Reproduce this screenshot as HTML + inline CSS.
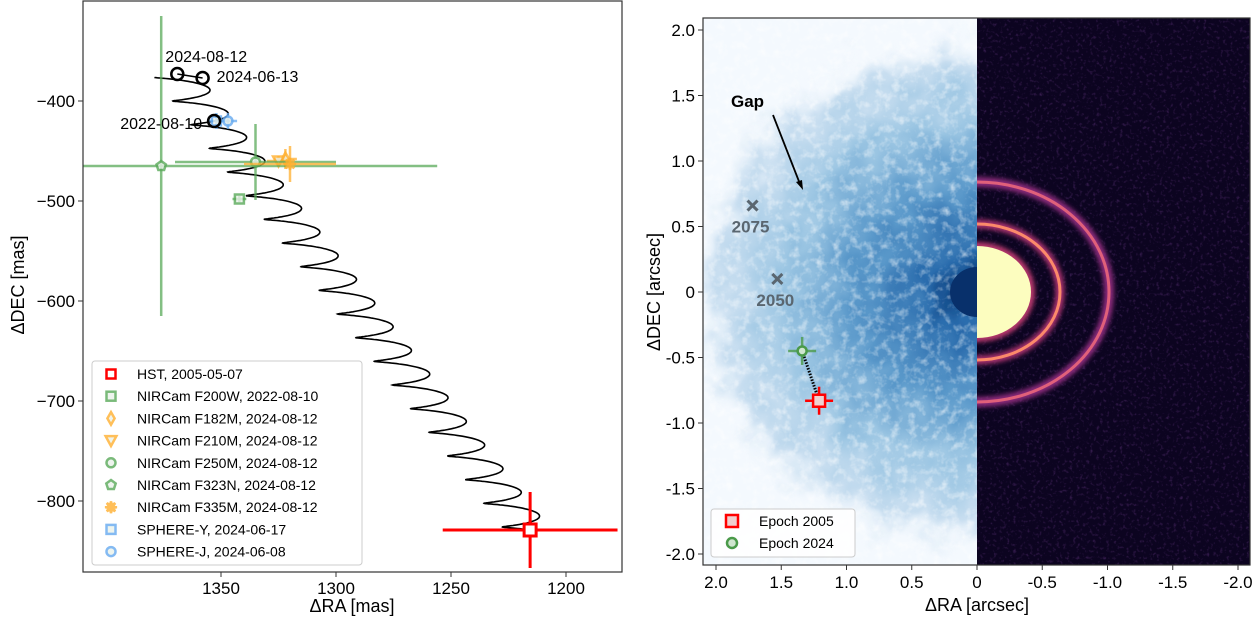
<!DOCTYPE html>
<html><head><meta charset="utf-8"><style>
html,body{margin:0;padding:0;background:#fff;}
svg{display:block;font-family:"Liberation Sans","DejaVu Sans",sans-serif;}
</style></head><body>
<svg id="fig" width="1255" height="620" viewBox="0 0 1255 620" xmlns="http://www.w3.org/2000/svg">
<defs>
<clipPath id="clipL"><rect x="83" y="1" width="539" height="571"/></clipPath>
<clipPath id="clipBlue"><rect x="703" y="18" width="274" height="547"/></clipPath>
<clipPath id="clipDark"><rect x="977" y="18" width="273" height="547"/></clipPath>
<filter id="rough" x="-20%" y="-20%" width="140%" height="140%">
<feTurbulence type="fractalNoise" baseFrequency="0.03" numOctaves="3" seed="4" result="n"/>
<feDisplacementMap in="SourceGraphic" in2="n" scale="60" xChannelSelector="R" yChannelSelector="G"/>
</filter>
<filter id="speck" x="0" y="0" width="100%" height="100%">
<feTurbulence type="fractalNoise" baseFrequency="0.12" numOctaves="3" seed="7"/>
<feColorMatrix values="0 0 0 0 1  0 0 0 0 1  0 0 0 0 1  0 0 0 2.2 -1.05"/>
</filter>
<filter id="speckD" x="0" y="0" width="100%" height="100%">
<feTurbulence type="fractalNoise" baseFrequency="0.3" numOctaves="2" seed="3"/>
<feColorMatrix values="0 0 0 0 0.35  0 0 0 0 0.1  0 0 0 0 0.55  0 0 0 2 -1.1"/>
</filter>
<filter id="glow"><feGaussianBlur stdDeviation="2.5"/></filter>
<radialGradient id="diskG" cx="0.5" cy="0.5" r="0.5">
<stop offset="0" stop-color="#0b3f7d"/>
<stop offset="0.15" stop-color="#2a6cad"/>
<stop offset="0.4" stop-color="#5c9acb"/>
<stop offset="0.65" stop-color="#9cc6e3"/>
<stop offset="0.85" stop-color="#c8def0"/>
<stop offset="1" stop-color="#f4f9fe" stop-opacity="0"/>
</radialGradient>
</defs>

<g id="left">
<rect x="83" y="1" width="539" height="571" fill="#fff"/>
<g id="curve" clip-path="url(#clipL)"></g>
<g id="points" clip-path="url(#clipL)"></g>
<g id="annot"></g>
<rect x="83" y="1" width="539" height="571" fill="none" stroke="#333" stroke-width="1.2"/>
<g id="lxticks"></g><g id="lyticks"></g>
<text x="352" y="612" font-size="18" text-anchor="middle">ΔRA [mas]</text>
<text x="0" y="0" font-size="18" text-anchor="middle" transform="translate(24,285) rotate(-90)">ΔDEC [mas]</text>
<g id="legendL"></g>
</g>

<g id="right">
<rect x="703" y="18" width="274" height="547" fill="#f4f9fe"/>
<g clip-path="url(#clipBlue)">
<g filter="url(#rough)">
<ellipse cx="972" cy="292" rx="290" ry="265" fill="url(#diskG)"/>
</g>
<rect x="703" y="18" width="274" height="547" filter="url(#speck)" opacity="0.6"/>
<ellipse cx="977" cy="292" rx="27" ry="25" fill="#08306b"/>
</g>
<rect x="977" y="18" width="273" height="547" fill="#0c0420"/>
<rect x="977" y="18" width="273" height="547" filter="url(#speckD)" opacity="0.4"/>
<g clip-path="url(#clipDark)">
<ellipse cx="977" cy="292" rx="132" ry="110" fill="none" stroke="#8a2a7a" stroke-width="10" filter="url(#glow)"/>
<ellipse cx="977" cy="292" rx="132" ry="110" fill="none" stroke="#e0607a" stroke-width="3"/>
<ellipse cx="977" cy="292" rx="83" ry="68" fill="none" stroke="#a8306e" stroke-width="9" filter="url(#glow)"/>
<ellipse cx="977" cy="292" rx="83" ry="68" fill="none" stroke="#fb8a6a" stroke-width="3"/>
<ellipse cx="977" cy="292" rx="58" ry="50" fill="#b7376d" filter="url(#glow)"/>
<ellipse cx="977" cy="292" rx="54" ry="46" fill="#fcfdbf"/>
</g>
<g id="rmarks"></g>
<rect x="703" y="18" width="547" height="547" fill="none" stroke="#333" stroke-width="1.2"/>
<g id="rxticks"></g><g id="ryticks"></g>
<text x="977" y="611" font-size="18" text-anchor="middle">ΔRA [arcsec]</text>
<text x="0" y="0" font-size="18" text-anchor="middle" transform="translate(660,292) rotate(-90)">ΔDEC [arcsec]</text>
</g>
</svg>
<script>
const labels = ["HST, 2005-05-07","NIRCam F200W, 2022-08-10","NIRCam F182M, 2024-08-12","NIRCam F210M, 2024-08-12","NIRCam F250M, 2024-08-12","NIRCam F323N, 2024-08-12","NIRCam F335M, 2024-08-12","SPHERE-Y, 2024-06-17","SPHERE-J, 2024-06-08"];
const raVals  = [1215.6, 1342, 1322, 1325, 1335, 1376, 1320, 1352, 1347];
const decVals = [-829, -498, -458, -460, -461, -465, -463, -420, -420];
const raErr   = [38, 3, 5, 5, 35, 120, 20, 4, 4];
const decErr  = [38, 3, 10, 5, 38, 150, 18, 8, 8];
const colors  = ["#ff0000","#5aaa5a","#ffb030","#ffb030","#5aaa5a","#5aaa5a","#ffb030","#66aaf0","#66aaf0"];
const shapes  = ["square","square","diamond","tri","circle","pent","star","square","circle"];
const predRA  = [1369, 1358, 1353];
const predDEC = [-373, -377, -420];
const predLab = ["2024-08-12","2024-06-13","2022-08-10"];
const curveStart = [2005.35, 1215.6, -829];
const curveEnd   = [2024.62, 1369, -373];
const parallaxAmp = [10, 3];
const xTicks = [1350, 1300, 1250, 1200];
const yTicks = [-400, -500, -600, -700, -800];
const epochLab = ["Epoch 2005","Epoch 2024"];
const epochRA  = [1.21, 1.34];
const epochDEC = [-0.83, -0.45];
const epochCol = ["#ff0000","#4a9a4a"];
const futLab = ["2075","2050"];
const futRA  = [1.72, 1.53];
const futDEC = [0.66, 0.10];
const rTicksX = [2.0,1.5,1.0,0.5,0,-0.5,-1.0,-1.5,-2.0];
const rTickXLab = ["2.0","1.5","1.0","0.5","0","-0.5","-1.0","-1.5","-2.0"];
const rTicksY = [2.0,1.5,1.0,0.5,0,-0.5,-1.0,-1.5,-2.0];
const rTickYLab = ["2.0","1.5","1.0","0.5","0","-0.5","-1.0","-1.5","-2.0"];

const NS="http://www.w3.org/2000/svg";
function mk(tag, attrs, parent){const e=document.createElementNS(NS,tag);for(const k in attrs)e.setAttribute(k,attrs[k]);parent.appendChild(e);return e;}
const X = ra => 221 - (ra-1350)*2.3;
const Y = d => 101 - (d+400)*1.0;
const RX = a => 977 - a*130.5;
const RY = a => 292 - a*131;

function marker(shape, cx, cy, col, s, parent){
  let e;
  if(shape==="square") e=mk("rect",{x:cx-s,y:cy-s,width:2*s,height:2*s},parent);
  else if(shape==="circle") e=mk("circle",{cx:cx,cy:cy,r:s},parent);
  else if(shape==="diamond") e=mk("polygon",{points:`${cx},${cy-s*1.4} ${cx+s*0.8},${cy} ${cx},${cy+s*1.4} ${cx-s*0.8},${cy}`},parent);
  else if(shape==="tri") e=mk("polygon",{points:`${cx-s*1.2},${cy-s} ${cx+s*1.2},${cy-s} ${cx},${cy+s*1.2}`},parent);
  else if(shape==="pent"){let p=[];for(let i=0;i<5;i++){const a=-Math.PI/2+i*2*Math.PI/5;p.push((cx+s*1.1*Math.cos(a))+","+(cy+s*1.1*Math.sin(a)));}e=mk("polygon",{points:p.join(" ")},parent);}
  else { let p=[];for(let i=0;i<16;i++){const a=i*Math.PI/8;const r=i%2?s*0.5:s*1.3;p.push((cx+r*Math.cos(a))+","+(cy+r*Math.sin(a)));}e=mk("polygon",{points:p.join(" ")},parent);}
  e.setAttribute("fill", shape==="star"?col:"#eaf2ea");
  e.setAttribute("stroke", col);
  e.setAttribute("stroke-width", 2.5);
  return e;
}

const cg=document.getElementById("curve");
let pts=[];
for(let i=0;i<=1200;i++){
  const f=i/1200;
  const t=curveStart[0]+f*(curveEnd[0]-curveStart[0]);
  const ra=curveStart[1]+f*(curveEnd[1]-curveStart[1])+parallaxAmp[0]*Math.sin(2*Math.PI*(t-curveStart[0]));
  const de=curveStart[2]+f*(curveEnd[2]-curveStart[2])+parallaxAmp[1]*(Math.cos(2*Math.PI*(t-curveStart[0]))-1);
  pts.push(X(ra).toFixed(1)+","+Y(de).toFixed(1));
}
const pl=mk("polyline",{points:pts.join(" "),fill:"none",stroke:"#000","stroke-width":1.6},cg);



const pg=document.getElementById("points");
for(let i=0;i<raVals.length;i++){
  const g=mk("g",{},pg);
  
  
  const cx=X(raVals[i]), cy=Y(decVals[i]);
  const w=i===0?3:2.5, op=i===0?1:0.75;
  mk("line",{x1:X(raVals[i]-raErr[i]),x2:X(raVals[i]+raErr[i]),y1:cy,y2:cy,stroke:colors[i],"stroke-width":w,opacity:op},g);
  mk("line",{x1:cx,x2:cx,y1:Y(decVals[i]-decErr[i]),y2:Y(decVals[i]+decErr[i]),stroke:colors[i],"stroke-width":w,opacity:op},g);
  const m=marker(shapes[i],cx,cy,colors[i],i===0?6:4.5,g);
  if(i===0){m.setAttribute("fill","#fff");m.setAttribute("stroke-width",3);}
  else m.setAttribute("opacity",0.8);
}
const ag=document.getElementById("annot");
const labOff=[[-12,-12,"start"],[14,4,"start"],[-12,8,"end"]];
for(let i=0;i<predRA.length;i++){
  const cx=X(predRA[i]), cy=Y(predDEC[i]);
  const c=mk("circle",{cx:cx,cy:cy,r:6,fill:"none",stroke:"#000","stroke-width":2.5},ag);
  
  
  const t=mk("text",{x:cx+labOff[i][0],y:cy+labOff[i][1],"font-size":16,"text-anchor":labOff[i][2]},ag);
  t.textContent=predLab[i];
  
  
}
mk("line",{x1:X(predRA[0]),y1:Y(predDEC[0]),x2:X(predRA[1]),y2:Y(predDEC[1]),stroke:"#000","stroke-width":1.6},ag);

const xt=document.getElementById("lxticks");
xTicks.forEach(v=>{
  mk("line",{x1:X(v),x2:X(v),y1:572,y2:577,stroke:"#333"},xt);
  const t=mk("text",{x:X(v),y:594,"font-size":17,"text-anchor":"middle"},xt);
  t.textContent=v;
  
  
});
const yt=document.getElementById("lyticks");
yTicks.forEach(v=>{
  mk("line",{x1:78,x2:83,y1:Y(v),y2:Y(v),stroke:"#333"},yt);
  const t=mk("text",{x:75,y:Y(v)+6,"font-size":17,"text-anchor":"end"},yt);
  t.textContent="\u2212"+Math.abs(v);
  
  
});
const lg=document.getElementById("legendL");
mk("rect",{x:92,y:361,width:270,height:204,rx:3,fill:"#fff",stroke:"#ccc","fill-opacity":0.85},lg);
labels.forEach((l,i)=>{
  const y=374+i*22.2;
  const e=mk("g",{},lg);
  
  
  const m=marker(shapes[i],111,y,colors[i],4.5,e);
  if(i===0){m.setAttribute("fill","#fff");}
  else m.setAttribute("opacity",0.8);
  const t=mk("text",{x:137,y:y+5,"font-size":14},e);
  t.textContent=l;
});

const rm=document.getElementById("rmarks");
futLab.forEach((l,i)=>{
  const cx=RX(futRA[i]), cy=RY(futDEC[i]);
  const g=mk("g",{},rm);
  
  
  mk("path",{d:`M${cx-5},${cy-5}L${cx+5},${cy+5}M${cx+5},${cy-5}L${cx-5},${cy+5}`,stroke:"#5a6670","stroke-width":3},g);
  const t=mk("text",{x:cx-2,y:cy+27,"font-size":17,"font-weight":"bold","text-anchor":"middle",fill:"#5a6670"},g);
  t.textContent=l;
});
const gap=mk("text",{x:731,y:107,"font-size":17,"font-weight":"bold"},rm);
gap.textContent="Gap";


const arr=mk("g",{},rm);


mk("line",{x1:773,y1:115,x2:800,y2:184,stroke:"#000","stroke-width":1.8},arr);
mk("polygon",{points:"803,190 796,182 802,180",fill:"#000"},arr);
mk("line",{x1:RX(epochRA[0]),y1:RY(epochDEC[0]),x2:RX(epochRA[1]),y2:RY(epochDEC[1]),stroke:"#000","stroke-width":3,"stroke-dasharray":"1.5,1.5"},rm);
epochLab.forEach((l,i)=>{
  const cx=RX(epochRA[i]), cy=RY(epochDEC[i]);
  const g=mk("g",{},rm);
  
  
  mk("line",{x1:cx-14,x2:cx+14,y1:cy,y2:cy,stroke:epochCol[i],"stroke-width":2.5,opacity:i?0.8:1},g);
  mk("line",{x1:cx,x2:cx,y1:cy-14,y2:cy+14,stroke:epochCol[i],"stroke-width":2.5,opacity:i?0.8:1},g);
  if(i===0) mk("rect",{x:cx-6,y:cy-6,width:12,height:12,fill:"#f0d0d0",stroke:epochCol[i],"stroke-width":2.5},g);
  else mk("circle",{cx:cx,cy:cy,r:4.5,fill:"#cfe6cf",stroke:epochCol[i],"stroke-width":2.5},g);
});
const rl=mk("g",{},rm);


mk("rect",{x:711,y:509,width:144,height:48,rx:3,fill:"#fff",stroke:"#ccc","fill-opacity":0.85},rl);
epochLab.forEach((l,i)=>{
  const y=521+i*22;
  if(i===0) mk("rect",{x:726,y:y-6,width:12,height:12,fill:"#f0d0d0",stroke:epochCol[i],"stroke-width":2.5},rl);
  else mk("circle",{cx:732,cy:y,r:5,fill:"#cfe6cf",stroke:epochCol[i],"stroke-width":2.5},rl);
  const t=mk("text",{x:759,y:y+5,"font-size":14},rl);
  t.textContent=l;
  
  
});
const rxt=document.getElementById("rxticks");
rTicksX.forEach((v,i)=>{
  mk("line",{x1:RX(v),x2:RX(v),y1:565,y2:570,stroke:"#333"},rxt);
  const t=mk("text",{x:RX(v),y:588,"font-size":17,"text-anchor":"middle"},rxt);
  t.textContent=rTickXLab[i];
  
  
});
const ryt=document.getElementById("ryticks");
rTicksY.forEach((v,i)=>{
  mk("line",{x1:698,x2:703,y1:RY(v),y2:RY(v),stroke:"#333"},ryt);
  const t=mk("text",{x:695,y:RY(v)+6,"font-size":17,"text-anchor":"end"},ryt);
  t.textContent=rTickYLab[i];
  
  
});
</script>
</body></html>
